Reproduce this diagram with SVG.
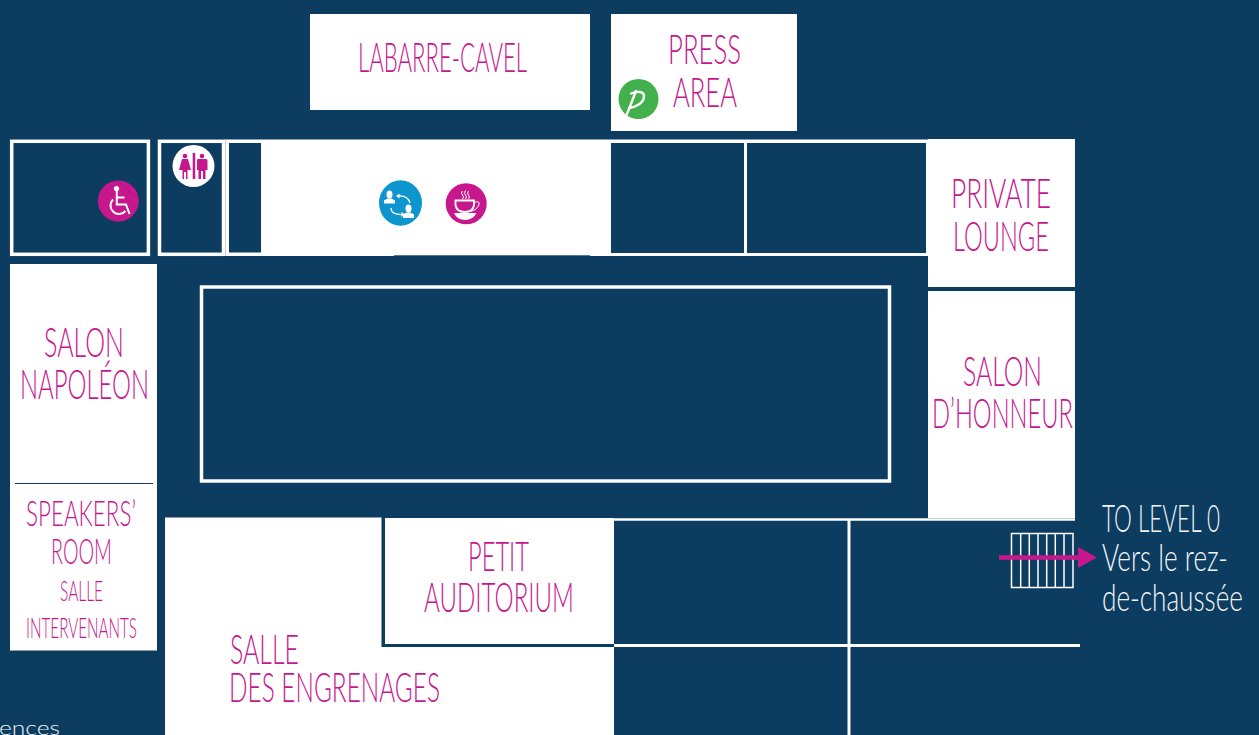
<svg xmlns="http://www.w3.org/2000/svg" width="1259" height="735" viewBox="0 0 1259 735">
<style>
text{font-family:"Lato","Open Sans","Liberation Sans",sans-serif;font-weight:300}
.m{fill:#c7178d}
.w{fill:#f2f5f7}
.r{fill:#fff}
.o{fill:none;stroke:#fff}
.l{stroke:#fff;fill:none}
.d{fill:#0c3c60}
.t{font-size:41px}
.s{font-size:36px}
.x{font-size:26.500px}
.v{font-size:37px}
</style>
<rect width="1259" height="735" fill="#0c3c60"/>
<g id="labarre"><rect class="r" x="310" y="14" width="280" height="96"/><text class="m t" x="358" y="71.500" textLength="169" lengthAdjust="spacingAndGlyphs">LABARRE-CAVEL</text></g>
<g id="press"><rect class="r" x="611" y="14" width="186" height="117"/><text class="m t" x="668" y="63.500" textLength="73" lengthAdjust="spacingAndGlyphs">PRESS</text><text class="m t" x="673" y="106.500" textLength="64" lengthAdjust="spacingAndGlyphs">AREA</text>
<circle cx="638.500" cy="99" r="20" fill="#43b14b"/><path d="M626 116L629 109L636 91M631 93.500C637 91 644 91 644 96C644 103 636 107 629 108" fill="none" stroke="#fff" stroke-width="2.400" stroke-linecap="round"/></g>
<g id="top-band">
<rect class="r" x="225" y="139.500" width="703" height="116.500"/>
<rect class="d" x="229" y="143" width="32" height="109.500"/>
<rect class="d" x="611" y="143" width="133" height="110"/>
<rect class="d" x="747" y="143" width="179" height="110"/>
<rect class="d" x="394" y="255.300" width="196" height="1"/>
<line x1="225.500" y1="139.500" x2="225.500" y2="256" stroke="#b9c6d1" stroke-width="1"/>
</g>
<g id="accessible"><rect class="o" x="11.700" y="141.300" width="136.700" height="113" stroke-width="3.500"/>
<circle cx="118.300" cy="201" r="20.500" fill="#c7178d"/><path d="M118 181L137 198" stroke="#a8127a" stroke-width="0.700" fill="none"/><circle cx="116.500" cy="188.500" r="2.600" fill="#fff"/><path d="M116.800 190V204.500H126L129.500 214M116.800 197.500H124.500" fill="none" stroke="#fff" stroke-width="2"/><path d="M113 199.500A8.500 8.500 0 1 0 125.500 211" fill="none" stroke="#fff" stroke-width="2"/></g>
<g id="toilets"><rect class="o" x="159.500" y="141.300" width="64" height="113" stroke-width="3.500"/>
<circle cx="193.500" cy="166" r="21" fill="#fff"/><rect x="192.700" y="153" width="2.500" height="26" fill="#c7178d"/>
<circle cx="185" cy="156" r="2.300" fill="#c7178d"/><path d="M182 159H188L191 170H187.500V179H186V172H184V179H182.500V170H179Z" fill="#c7178d"/>
<circle cx="202" cy="156" r="2.300" fill="#c7178d"/><path d="M198 159H206Q207.500 159 207.500 161V170H205.500V179H203V171H201V179H198.500V170H197V161Q197 159 198 159Z" fill="#c7178d"/></g>
<g id="networking"><ellipse cx="400.500" cy="203" rx="21.500" ry="22.800" fill="#0f95cd"/><ellipse cx="389.500" cy="194.500" rx="3" ry="4" fill="#fff"/><path d="M384 203.500V200.500L387.500 198.500H391.500L395 200.500V203.500Z" fill="#fff"/><ellipse cx="408.500" cy="208.500" rx="3" ry="4" fill="#fff"/><path d="M403 218V214.500L406.500 212.500H410.500L414 214.500V218Z" fill="#fff"/><path d="M397.500 196Q408 195 410 203M391 208Q391 215 403 214.500" fill="none" stroke="#fff" stroke-width="1.200"/><path d="M396 196L399.500 193.500V198.500ZM405 214.500L401.500 212V217Z" fill="#fff"/></g>
<g id="coffee"><circle cx="466.200" cy="203.700" r="20.500" fill="#c7178d"/><path d="M455.500 200.500H474V205Q473 212 465 212Q456.500 212 455.500 205Z" fill="none" stroke="#fff" stroke-width="1.800"/><path d="M474 202.500Q480 200 479 205Q477 210 471 211.500" fill="none" stroke="#fff" stroke-width="1"/><path d="M454 213H476.500Q473 220 465 220Q457 220 454 213Z" fill="#fff"/><path d="M462.500 191Q460.500 193 462.500 195Q464.500 197 462.500 199M465.500 190.500Q463.500 193 465.500 195Q467.500 197 465.500 199M468.500 191Q466.500 193 468.500 195Q470.500 197 468.500 199" fill="none" stroke="#fff" stroke-width="1"/></g>
<g id="private-lounge"><rect class="r" x="928" y="139" width="147" height="148"/><text class="m t" x="951" y="208" textLength="100" lengthAdjust="spacingAndGlyphs">PRIVATE</text><text class="m t" x="953" y="250.500" textLength="96" lengthAdjust="spacingAndGlyphs">LOUNGE</text></g>
<g id="salon-honneur"><rect class="r" x="928" y="291" width="147" height="227"/><text class="m t" x="963" y="385.500" textLength="79" lengthAdjust="spacingAndGlyphs">SALON</text><text class="m t" x="932" y="428" textLength="141" lengthAdjust="spacingAndGlyphs">D’HONNEUR</text></g>
<g id="central"><rect class="o" x="201.500" y="287" width="688" height="194" stroke-width="3.500"/></g>
<g id="salon-napoleon"><rect class="r" x="10" y="264" width="147" height="386.500"/><text class="m t" x="44" y="356.500" textLength="80" lengthAdjust="spacingAndGlyphs">SALON</text><text class="m t" x="20" y="399" textLength="129" lengthAdjust="spacingAndGlyphs">NAPOLÉON</text>
<line x1="15" y1="483.500" x2="153" y2="483.500" stroke="#0c3c60" stroke-width="1"/></g>
<g id="speakers"><text class="m s" x="26" y="526" textLength="110" lengthAdjust="spacingAndGlyphs">SPEAKERS’</text><text class="m s" x="51" y="564" textLength="61" lengthAdjust="spacingAndGlyphs">ROOM</text><text class="m x" x="60" y="601" textLength="43" lengthAdjust="spacingAndGlyphs">SALLE</text><text class="m x" x="26" y="638" textLength="111" lengthAdjust="spacingAndGlyphs">INTERVENANTS</text></g>
<g id="salle-engrenages"><path class="r" d="M165 517.500H381.500V647H614V735H165Z"/><text class="m t" x="230" y="664" textLength="69" lengthAdjust="spacingAndGlyphs">SALLE</text><text class="m t" x="229" y="702" textLength="211" lengthAdjust="spacingAndGlyphs">DES ENGRENAGES</text></g>
<g id="petit-auditorium"><rect class="r" x="385" y="518" width="229" height="126"/><text class="m t" x="468" y="570.500" textLength="61" lengthAdjust="spacingAndGlyphs">PETIT</text><text class="m t" x="424" y="612" textLength="150" lengthAdjust="spacingAndGlyphs">AUDITORIUM</text></g>
<g id="lines"><path class="l" stroke-width="2.500" d="M614 519.500H1075"/><path class="l" stroke-width="3" d="M614 645.500H1080M849 520V735"/></g>
<g id="stairs"><rect class="o" x="1011.500" y="533.500" width="61.500" height="54" stroke-width="1.500"/><path class="l" stroke-width="1.500" d="M1020.700 533.500V587.500M1029.300 533.500V587.500M1038 533.500V587.500M1046.700 533.500V587.500M1055.300 533.500V587.500M1064 533.500V587.500"/>
<line x1="999" y1="557.500" x2="1079" y2="557.500" stroke="#c7178d" stroke-width="4.500"/><path d="M1078 547L1097 557.500L1078 568Z" fill="#c7178d"/></g>
<g id="to-level"><text class="w v" x="1102" y="531.500" textLength="118" lengthAdjust="spacingAndGlyphs">TO LEVEL 0</text><text class="w v" x="1102" y="571" textLength="126" lengthAdjust="spacingAndGlyphs">Vers le rez-</text><text class="w v" x="1102" y="611" textLength="141" lengthAdjust="spacingAndGlyphs">de-chaussée</text></g>
<text class="w" font-size="20" x="-1" y="735" textLength="61" lengthAdjust="spacingAndGlyphs">ences</text>
</svg>
